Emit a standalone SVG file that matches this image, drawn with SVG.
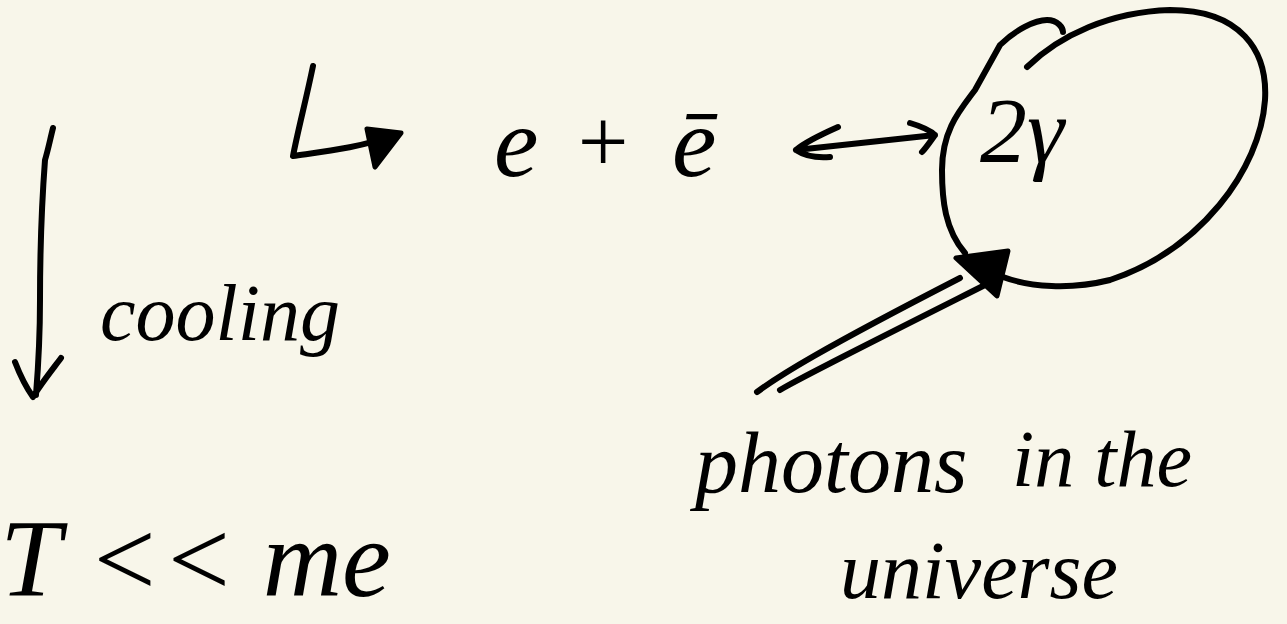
<svg xmlns="http://www.w3.org/2000/svg" width="1287" height="624" viewBox="0 0 1287 624">
<style>
.ink{fill:none;stroke:#000;stroke-width:6;stroke-linecap:round;stroke-linejoin:round}
.head{fill:#000;stroke:#000;stroke-width:5;stroke-linejoin:round}
.t{font-family:"Liberation Serif",serif;font-style:italic;fill:#000}
</style>
<rect width="1287" height="624" fill="#F8F6EA"/>
<g id="connectors">
  <path id="cooling-arrow" class="ink" d="M53 128 C50 140 48 150 45 160 C42 200 40 260 40 300 C40 340 38 370 36 395 M15 362 C20 375 28 390 33 397 C40 385 52 370 61 358"/>
  <path id="decay-arrow" class="ink" d="M313 66 C306 100 298 130 293 156 C320 152 360 148 398 134"/>
  <polygon class="head" points="367,129 401,133 375,167"/>
  <path id="equilibrium-arrow" class="ink" d="M796 150 L935 135 M838 127 C820 135 805 142 796 150 C805 156 818 158 830 157 M910 123 C920 126 930 130 935 135 C930 142 926 148 922 152"/>
  <path id="photon-line-1" class="ink" d="M757 392 C780 375 820 350 960 278"/>
  <path id="photon-line-2" class="ink" d="M780 390 C800 378 840 358 985 285"/>
  <polygon class="head" points="956,258 1008,251 997,296"/>
</g>
<g id="node-pair">
  <text class="t" x="494" y="176" font-size="100">e</text>
  <text class="t" x="572" y="172" font-size="90">+</text>
  <text class="t" x="672" y="176" font-size="100">ē</text>
</g>
<g id="node-photons-bubble">
  <path class="ink" d="M1027 67 C1060 35 1110 12 1170 10 C1240 10 1268 50 1265 100 C1260 170 1200 250 1110 280 C1070 290 1030 287 1003 277"/>
  <path class="ink" d="M965 253 C945 230 942 200 942 170 C942 130 960 110 975 90 L1000 45 C1015 30 1035 20 1047 20 C1058 20 1063 28 1063 32"/>
  <text class="t" x="980" y="162" font-size="94">2γ</text>
</g>
<g id="node-cooling">
  <text class="t" x="100" y="340" font-size="80">cooling</text>
</g>
<g id="node-photons-label">
  <text class="t" x="695" y="492" font-size="86">photons</text>
  <text class="t" x="1012" y="486" font-size="80">in the</text>
  <text class="t" x="840" y="598" font-size="82">universe</text>
</g>
<g id="node-condition">
  <text class="t" x="0" y="596" font-size="110">T &lt;&lt; me</text>
</g>
</svg>
